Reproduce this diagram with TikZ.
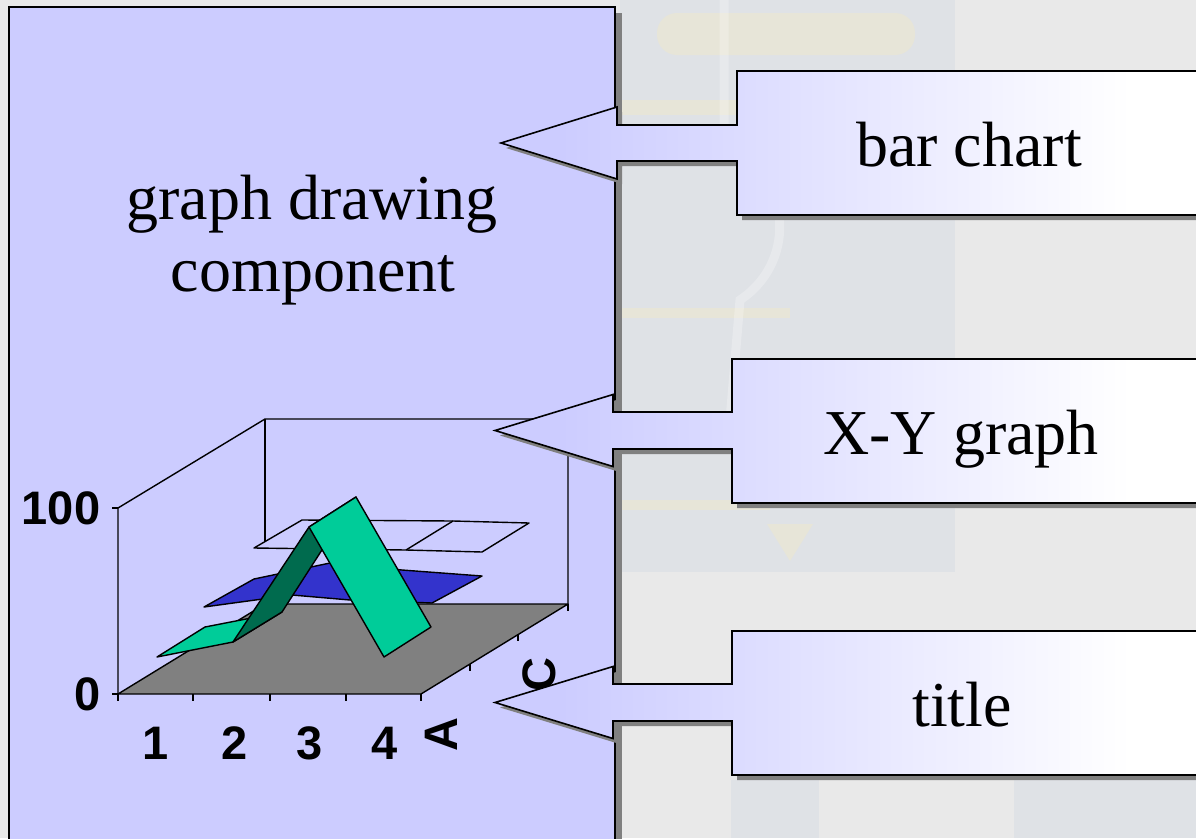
\documentclass[tikz,border=0pt]{standalone}
\usepackage{fontspec}
\setmainfont{Liberation Serif}
\newfontfamily\chartfont{Liberation Sans}
\definecolor{lav}{HTML}{CCCCFF}
\definecolor{bgc}{HTML}{E9E9E9}
\definecolor{shad}{HTML}{808080}
\definecolor{floorc}{HTML}{808080}
\definecolor{blueser}{HTML}{3333CC}
\definecolor{greenL}{HTML}{00CC99}
\definecolor{greenD}{HTML}{006B4E}
\definecolor{wmblue}{HTML}{DFE2E6}
\definecolor{wmyel}{HTML}{E7E5D8}
\begin{document}
\begin{tikzpicture}[x=1pt,y=-1pt,
  bigtext/.style={font=\fontsize{64}{72}\selectfont, anchor=base, inner sep=0},
  chartlbl/.style={font=\chartfont\bfseries\fontsize{47}{50}\selectfont, inner sep=0},
  chartline/.style={line width=1.4pt, line join=round},
  calloutline/.style={draw=black, line width=1.6pt, line join=miter},
  calloutshadow/.style={fill=shad}]
\useasboundingbox (0,0) rectangle (1196,838);
% background and faint watermark
\fill[bgc] (0,0) rectangle (1196,838);
\fill[wmblue] (620,0) rectangle (955,572);
\fill[wmblue] (731,780) rectangle (819,838);
\fill[wmblue] (1014,780) rectangle (1196,838);
\fill[wmyel, rounded corners=20pt] (657,13) rectangle (915,55);
\fill[wmyel] (620,100) rectangle (760,115);
\fill[wmyel] (620,308) rectangle (790,318);
\fill[wmyel] (620,500) rectangle (770,510);
\draw[white, opacity=0.25, line width=9pt, line cap=round]
  (724,0) -- (724,150) .. controls (790,170) and (800,260) .. (740,300) -- (730,420);
\fill[wmyel] (767,524) -- (813,524) -- (790,561) -- cycle;
% large component box
\fill[shad] (15,13) rectangle (622,850);
\filldraw[fill=lav, draw=black, line width=2pt] (9,7) rectangle (615,850);
\node[bigtext] (t1) at (312,219) {graph drawing};
\node[bigtext] (t2) at (313,291) {component};
% 3D chart
\begin{scope}[chartline]
  \filldraw[fill=floorc] (118,694) -- (421,694) -- (568,604) -- (265,604) -- cycle;
  \draw (118,694) -- (118,508) -- (265,419) -- (568,419) -- (568,604);
  \draw (265,419) -- (265,548);
  % ticks
  \draw (112,508) -- (118,508);
  \draw (112,694) -- (118,694) -- (118,701);
  \foreach \xx in {193,270,346,421} {\draw (\xx,694) -- (\xx,701);}
  \draw (470,664) -- (470,671);
  \draw (518,634) -- (518,641);
  \draw (568,604) -- (568,611);
  % series C
  \filldraw[fill=lav] (254,548) -- (302,520) -- (453,521) -- (529,523) -- (482,552) -- (406,550) -- cycle;
  \draw (406,550) -- (453,521);
  % series B
  \filldraw[fill=blueser] (204,607) -- (254,579) -- (330,563) -- (402,570) -- (482,576) -- (432,603) -- (350,600) -- (292,595) -- cycle;
  % series A
  \filldraw[fill=greenL] (157,657) -- (205,627) -- (282,612) -- (233,642) -- cycle;
  \filldraw[fill=greenD] (233,642) -- (309,527) -- (356,497) -- (282,612) -- cycle;
  \filldraw[fill=greenL] (309,527) -- (356,497) -- (431,627) -- (384,657) -- cycle;
\end{scope}
\node[chartlbl] (l100) at (61,508) {100};
\node[chartlbl] (l0) at (88,694) {0};
\node[chartlbl] (l1) at (156,743) {1};
\node[chartlbl] (l2) at (235,743) {2};
\node[chartlbl] (l3) at (310,743) {3};
\node[chartlbl] (l4) at (385,743) {4};
\node[chartlbl, rotate=90] (lA) at (441,735) {A};
\node[chartlbl, rotate=90] (lC) at (539,675) {C};
% callouts
\foreach \bx/\bt/\bb/\st/\sb/\hx/\tx in {737/71/215/125/161/617/501, 732/359/503/412/449/613/495, 732/631/775/684/721/613/495} {
  \pgfmathsetmacro\cyy{(\st+\sb)/2}
  \pgfmathsetmacro\hdT{\cyy-36}
  \pgfmathsetmacro\hdB{\cyy+36}
  \fill[calloutshadow, shift={(5,5)}] (1215,\bt) -- (\bx,\bt) -- (\bx,\st) -- (\hx,\st) -- (\hx,\hdT) -- (\tx,\cyy) -- (\hx,\hdB) -- (\hx,\sb) -- (\bx,\sb) -- (\bx,\bb) -- (1215,\bb) -- cycle;
  \begin{scope}
    \clip (1210,\bt) -- (\bx,\bt) -- (\bx,\st) -- (\hx,\st) -- (\hx,\hdT) -- (\tx,\cyy) -- (\hx,\hdB) -- (\hx,\sb) -- (\bx,\sb) -- (\bx,\bb) -- (1210,\bb) -- cycle;
    \fill[lav] (480,\bt-40) rectangle (561,\bb+40);
    \shade[left color=lav, right color=white] (560,\bt-40) rectangle (1131,\bb+40);
    \fill[white] (1130,\bt-40) rectangle (1215,\bb+40);
  \end{scope}
  \path[calloutline] (1210,\bt) -- (\bx,\bt) -- (\bx,\st) -- (\hx,\st) -- (\hx,\hdT) -- (\tx,\cyy) -- (\hx,\hdB) -- (\hx,\sb) -- (\bx,\sb) -- (\bx,\bb) -- (1210,\bb) -- cycle;
}
\node[bigtext] (c1) at (969,166) {bar chart};
\node[bigtext] (c2) at (961,454) {X-Y graph};
\node[bigtext] (c3) at (962,726) {title};
\end{tikzpicture}
\end{document}
